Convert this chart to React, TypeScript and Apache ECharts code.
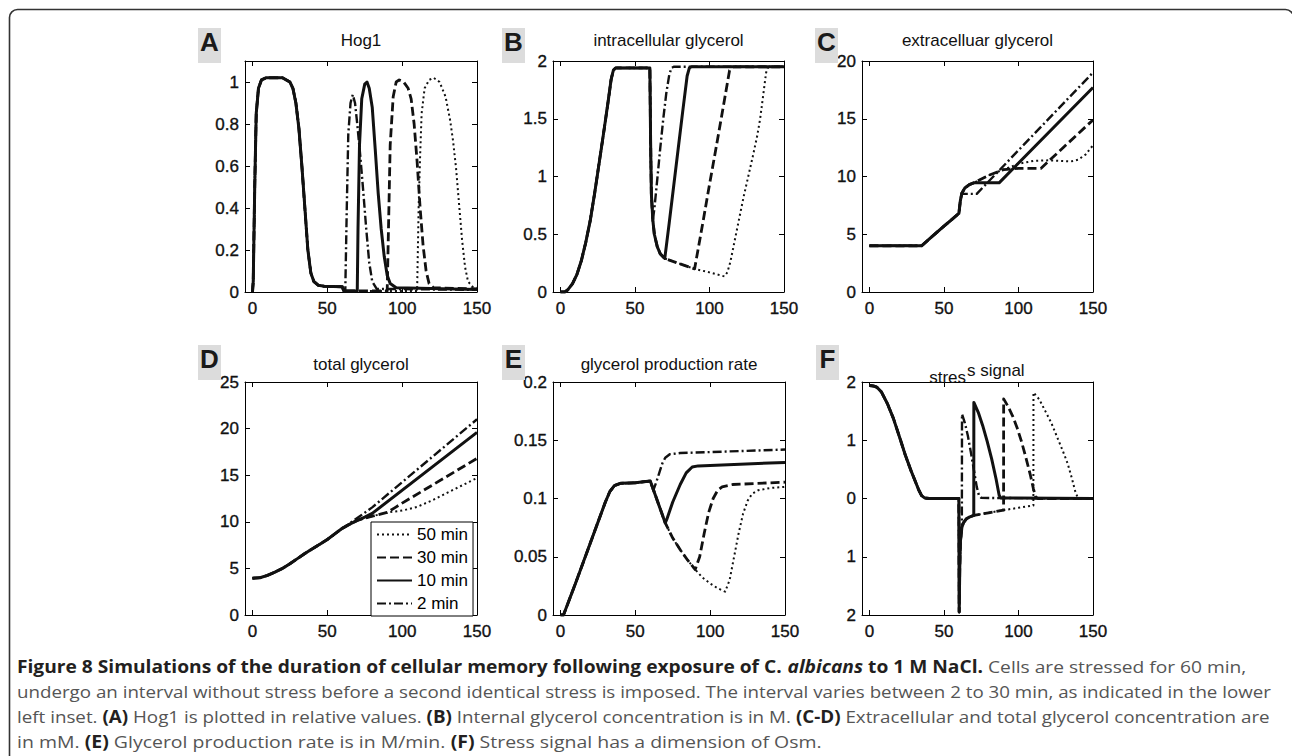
import React, { useEffect, useRef } from 'react';
import * as echarts from 'echarts';

// ---------- shared ----------
const seriesNames = ['50 min', '30 min', '10 min', '2 min'];
const xTicks = [0, 50, 100, 150];

// ---------- A: Hog1 ----------
const hogTicks = [0, 0.2, 0.4, 0.6, 0.8, 1];
const hogCommon = [[0, 0], [0.5, 0.05], [1.5, 0.5], [2.5, 0.85], [4, 0.97], [6, 1.01], [9, 1.02], [20, 1.02], [25, 1.0], [27, 0.97], [29, 0.9], [31, 0.78], [33, 0.6], [35, 0.4], [37, 0.2], [39, 0.09], [41, 0.05], [44, 0.032], [48, 0.027], [60, 0.025], [61, 0.005]];
const hog_2 = [...hogCommon, [62, 0.005], [63, 0.4], [64, 0.75], [65.5, 0.9], [67, 0.94], [68.5, 0.9], [70, 0.8], [72, 0.65], [74, 0.48], [76, 0.3], [78, 0.14], [80, 0.05], [83, 0.015], [150, 0.01]];
const hog_10 = [...hogCommon, [70, 0.005], [70.5, 0.3], [71.5, 0.7], [73, 0.92], [75, 0.99], [76.5, 1.0], [78, 0.97], [80, 0.88], [82, 0.68], [84, 0.47], [86, 0.3], [88, 0.17], [90, 0.08], [92, 0.04], [96, 0.02], [150, 0.012]];
const hog_30 = [...hogCommon, [90, 0.005], [91, 0.35], [92, 0.7], [94, 0.93], [96, 1.0], [98, 1.01], [101, 1.0], [104, 0.97], [106, 0.92], [108, 0.8], [110, 0.62], [112, 0.4], [114, 0.22], [116, 0.1], [118, 0.04], [121, 0.02], [150, 0.015]];
const hog_50 = [...hogCommon, [110, 0.005], [111, 0.4], [112, 0.65], [113, 0.85], [115, 0.97], [118, 1.01], [121, 1.02], [125, 1.0], [129, 0.93], [132, 0.82], [134, 0.72], [136, 0.59], [138, 0.42], [140, 0.25], [142, 0.12], [144, 0.05], [147, 0.025], [150, 0.02]];

// ---------- B: intracellular glycerol ----------
const inTicks = [0, 0.5, 1, 1.5, 2];
const inCommon = [[0, 0], [3, 0], [5, 0.02], [8, 0.07], [11, 0.15], [14, 0.27], [17, 0.43], [20, 0.62], [23, 0.86], [26, 1.12], [29, 1.38], [32, 1.65], [34, 1.84], [35.5, 1.92], [37, 1.94], [60, 1.94], [60.5, 1.3], [61, 0.85], [62, 0.62]];
const inDrop = [[63, 0.5], [65, 0.39], [67, 0.33], [70, 0.29]];
const in_2 = [...inCommon, [63, 0.72], [65, 0.98], [67, 1.25], [69, 1.5], [71, 1.72], [73, 1.88], [74.5, 1.94], [76, 1.95], [150, 1.95]];
const in_10 = [...inCommon, ...inDrop, [73, 0.6], [76, 0.92], [79, 1.24], [82, 1.56], [85, 1.87], [86.5, 1.94], [88, 1.95], [150, 1.95]];
const in_30 = [...inCommon, ...inDrop, [80, 0.245], [90, 0.2], [95, 0.56], [100, 0.93], [105, 1.29], [110, 1.66], [113.5, 1.92], [116, 1.95], [150, 1.95]];
const in_50 = [...inCommon, ...inDrop, [80, 0.245], [90, 0.2], [100, 0.17], [110, 0.135], [112, 0.17], [114, 0.26], [117, 0.45], [120, 0.64], [123, 0.83], [126, 1.0], [129, 1.17], [132, 1.35], [134, 1.5], [136, 1.7], [138, 1.9], [139.5, 1.95], [150, 1.95]];

// ---------- C: extracellular glycerol ----------
const exTicks = [0, 5, 10, 15, 20];
const exCommon = [[0, 4], [35, 4], [40, 4.57], [45, 5.14], [50, 5.7], [55, 6.25], [60, 6.8], [61, 7.9], [62, 8.55]];
const exLeak = [[64, 9.0], [67, 9.3], [70, 9.45]];
const ex_2 = [...exCommon, [63, 8.5], [72, 8.5], [150, 19.0]];
const ex_10 = [...exCommon, ...exLeak, [87, 9.45], [150, 17.7]];
const ex_30 = [...exCommon, ...exLeak, [80, 10.1], [90, 10.6], [100, 10.7], [115, 10.7], [150, 14.9]];
const ex_50 = [...exCommon, ...exLeak, [80, 10.1], [90, 10.6], [100, 11.1], [110, 11.35], [120, 11.4], [135, 11.3], [140, 11.45], [145, 11.9], [150, 12.7]];

// ---------- D: total glycerol ----------
const totTicks = [0, 5, 10, 15, 20, 25];
const totCommon = [[0, 3.95], [5, 4.0], [10, 4.25], [15, 4.6], [20, 5.0], [25, 5.5], [30, 6.05], [35, 6.6], [40, 7.1], [45, 7.6], [50, 8.1], [55, 8.7], [60, 9.3]];
const totLate = [[65, 9.75], [70, 10.15]];
const tot_2 = [...totCommon, [62, 9.5], [70, 10.4], [80, 11.55], [150, 21.0]];
const tot_10 = [...totCommon, ...totLate, [75, 10.5], [80, 10.9], [150, 19.6]];
const tot_30 = [...totCommon, ...totLate, [80, 10.6], [90, 11.0], [95, 11.5], [100, 12.0], [150, 16.8]];
const tot_50 = [...totCommon, ...totLate, [80, 10.6], [90, 11.0], [100, 11.2], [110, 11.6], [120, 12.3], [130, 13.1], [140, 13.9], [150, 14.7]];

// ---------- E: glycerol production rate ----------
const rateTicks = [0, 0.05, 0.1, 0.15, 0.2];
const rateCommon = [[0, 0], [2, 0], [10, 0.027], [20, 0.062], [30, 0.097], [33, 0.106], [36, 0.111], [40, 0.113], [50, 0.1135], [60, 0.115]];
const rateDrop = [[65, 0.097], [70, 0.079]];
const rate_2 = [...rateCommon, [62, 0.107], [64, 0.114], [66, 0.122], [68, 0.13], [70, 0.135], [73, 0.138], [80, 0.139], [150, 0.142]];
const rate_10 = [...rateCommon, ...rateDrop, [71, 0.082], [75, 0.097], [80, 0.112], [84, 0.122], [88, 0.127], [92, 0.128], [150, 0.131]];
const rate_30 = [...rateCommon, ...rateDrop, [75, 0.066], [80, 0.056], [85, 0.047], [90, 0.039], [93, 0.05], [96, 0.07], [99, 0.088], [102, 0.1], [105, 0.107], [108, 0.11], [115, 0.112], [150, 0.114]];
const rate_50 = [...rateCommon, ...rateDrop, [75, 0.066], [80, 0.056], [85, 0.047], [90, 0.039], [95, 0.032], [100, 0.027], [105, 0.023], [110, 0.02], [113, 0.03], [116, 0.05], [119, 0.07], [122, 0.087], [125, 0.098], [128, 0.104], [132, 0.107], [140, 0.109], [150, 0.11]];

// ---------- F: stress signal ----------
const stTicks = [-2, -1, 0, 1, 2];
const stCommon = [[0, 1.94], [3, 1.93], [5, 1.91], [8, 1.83], [12, 1.63], [16, 1.38], [20, 1.07], [24, 0.75], [28, 0.47], [31, 0.28], [33, 0.15], [35, 0.05], [37, 0.01], [40, 0], [60, 0], [60.2, -1.95], [60.6, -1.2], [61, -0.75], [62, -0.5]];
const stNeg = [[63, -0.42], [65, -0.35], [67, -0.32], [70, -0.29]];
const st_2 = [...stCommon, [62.1, 1.45], [64, 1.3], [66, 1.08], [68, 0.8], [70, 0.5], [72, 0.2], [73.5, 0.05], [75, 0.01], [150, 0]];
const st_10 = [...stCommon, ...stNeg, [70.05, 1.65], [73, 1.48], [76, 1.25], [79, 0.98], [82, 0.68], [85, 0.33], [87, 0.06], [88, 0.01], [150, 0]];
const st_30 = [...stCommon, ...stNeg, [80, -0.245], [90, -0.2], [90.05, 1.71], [93, 1.58], [96, 1.42], [99, 1.22], [102, 0.98], [105, 0.7], [108, 0.4], [110, 0.17], [111.5, 0.03], [113, 0], [150, 0]];
const st_50 = [...stCommon, ...stNeg, [80, -0.245], [90, -0.2], [100, -0.16], [110, -0.12], [110.05, 1.82], [114, 1.7], [118, 1.5], [122, 1.3], [126, 1.05], [130, 0.8], [133, 0.6], [136, 0.33], [138, 0.13], [139.5, 0.03], [141, 0], [150, 0]];

// ---------- text ----------
const captionLines: [string, string][][] = [
  [['b', 'Figure 8 Simulations of the duration of cellular memory following exposure of C. '], ['bi', 'albicans'], ['b', ' to 1 M NaCl.'], ['r', ' Cells are stressed for 60 min,']],
  [['r', 'undergo an interval without stress before a second identical stress is imposed. The interval varies between 2 to 30 min, as indicated in the lower']],
  [['r', 'left inset. '], ['b', '(A)'], ['r', ' Hog1 is plotted in relative values. '], ['b', '(B)'], ['r', ' Internal glycerol concentration is in M. '], ['b', '(C-D)'], ['r', ' Extracellular and total glycerol concentration are']],
  [['r', 'in mM. '], ['b', '(E)'], ['r', ' Glycerol production rate is in M/min. '], ['b', '(F)'], ['r', ' Stress signal has a dimension of Osm.']],
];

const FONT = "'Liberation Sans', Arial, sans-serif";
const CAP_FONT = "'Open Sans', sans-serif";
const CAP_SIZE = 17;

const lineStyles: Record<string, any> = {
  '50 min': { type: [2, 3], width: 2 },
  '30 min': { type: [9, 4], width: 2.8 },
  '10 min': { type: 'solid', width: 3 },
  '2 min': { type: [9, 3, 2, 3], width: 2.4 },
};

const panels = [
  { letter: 'A', title: 'Hog1', yMin: 0, yMax: 1.1, yTicks: hogTicks, data: { '50 min': hog_50, '30 min': hog_30, '10 min': hog_10, '2 min': hog_2 }, left: 245, top: 61, w: 232, h: 231 },
  { letter: 'B', title: 'intracellular glycerol', yMin: 0, yMax: 2, yTicks: inTicks, data: { '50 min': in_50, '30 min': in_30, '10 min': in_10, '2 min': in_2 }, left: 553, top: 61, w: 231, h: 231 },
  { letter: 'C', title: 'extracelluar glycerol', yMin: 0, yMax: 20, yTicks: exTicks, data: { '50 min': ex_50, '30 min': ex_30, '10 min': ex_10, '2 min': ex_2 }, left: 862, top: 61, w: 231, h: 231 },
  { letter: 'D', title: 'total glycerol', yMin: 0, yMax: 25, yTicks: totTicks, data: { '50 min': tot_50, '30 min': tot_30, '10 min': tot_10, '2 min': tot_2 }, left: 245, top: 382, w: 232, h: 233 },
  { letter: 'E', title: 'glycerol production rate', yMin: 0, yMax: 0.2, yTicks: rateTicks, data: { '50 min': rate_50, '30 min': rate_30, '10 min': rate_10, '2 min': rate_2 }, left: 553, top: 382, w: 232, h: 233 },
  { letter: 'F', title: '', yMin: -2, yMax: 2, yTicks: stTicks, data: { '50 min': st_50, '30 min': st_30, '10 min': st_10, '2 min': st_2 }, left: 862, top: 382, w: 231, h: 233, absLabels: true },
];

function measure(font: string, s: string) {
  const c = document.createElement('canvas').getContext('2d')!;
  c.font = font;
  return c.measureText(s).width;
}

function buildOption() {
  const grid: any[] = [];
  const xAxis: any[] = [];
  const yAxis: any[] = [];
  const series: any[] = [];
  const graphic: any[] = [];

  const axisLine = { show: true, onZero: false, lineStyle: { color: '#000', width: 1 } };
  const labelStyle = { fontSize: 17, color: '#111', fontFamily: FONT, textBorderColor: '#111', textBorderWidth: 0.35 };

  panels.forEach((p, i) => {
    grid.push({ left: p.left, top: p.top, width: p.w, height: p.h, containLabel: false });
    const xBase = { type: 'value', gridIndex: i, min: -5, max: 150, axisLine, splitLine: { show: false },
      axisTick: { show: true, inside: true, length: 5, customValues: xTicks, lineStyle: { color: '#000' } } };
    xAxis.push({ ...xBase, position: 'bottom', axisLabel: { ...labelStyle, margin: 8, customValues: xTicks } });
    xAxis.push({ ...xBase, position: 'top', axisLabel: { show: false } });
    const yBase = { type: 'value', gridIndex: i, min: p.yMin, max: p.yMax, axisLine, splitLine: { show: false },
      axisTick: { show: true, inside: true, length: 5, customValues: p.yTicks, lineStyle: { color: '#000' } } };
    yAxis.push({ ...yBase, position: 'left', axisLabel: { ...labelStyle, margin: 6, customValues: p.yTicks,
      formatter: (v: number) => (p.absLabels ? String(Math.abs(v)) : String(v)) } });
    yAxis.push({ ...yBase, position: 'right', axisLabel: { show: false } });

    ['50 min', '30 min', '2 min', '10 min'].forEach((name) => {
      const ls = lineStyles[name];
      series.push({
        type: 'line', name, xAxisIndex: 2 * i, yAxisIndex: 2 * i, data: (p.data as any)[name],
        symbol: 'none', showSymbol: false, clip: true,
        lineStyle: { color: '#111', width: ls.width, type: ls.type, cap: 'butt', join: 'round' },
        itemStyle: { color: '#111' },
        emphasis: { disabled: true },
      });
    });

    // panel letter with grey box
    const topRow = i < 3;
    const bx = [198, 502, 815, 198, 502, 816][i];
    const by = topRow ? 28 : 345;
    graphic.push({ type: 'rect', shape: { x: bx, y: by, width: 23, height: 35 }, style: { fill: '#dcdcdc' }, z: 1 });
    graphic.push({ type: 'text', x: bx + 11.5, y: by + 13.5, z: 2,
      style: { text: p.letter, fontSize: 26, fontWeight: 'bold', fontFamily: FONT, fill: '#1a1a1a', align: 'center', verticalAlign: 'middle' } });
    if (p.title) {
      graphic.push({ type: 'text', x: p.left + p.w / 2, y: topRow ? 40.5 : 364.5, z: 2,
        style: { text: p.title, fontSize: 17, fontFamily: FONT, fill: '#111', align: 'center', verticalAlign: 'middle' } });
    }
  });

  // F's broken title
  graphic.push({ type: 'text', x: 966, y: 377, z: 2, style: { text: 'stres', fontSize: 17, fontFamily: FONT, fill: '#111', align: 'right', verticalAlign: 'middle' } });
  graphic.push({ type: 'text', x: 967, y: 370.5, z: 2, style: { text: 's signal', fontSize: 17, fontFamily: FONT, fill: '#111', align: 'left', verticalAlign: 'middle' } });

  // frame
  graphic.push({ type: 'rect', shape: { x: 9.5, y: 9.5, width: 1284, height: 800, r: 8 }, style: { fill: 'none', stroke: '#333', lineWidth: 1.6 }, z: 0 });

  // caption
  const fonts: Record<string, string> = {
    b: `bold ${CAP_SIZE}px ${CAP_FONT}`,
    bi: `italic bold ${CAP_SIZE}px ${CAP_FONT}`,
    r: `${CAP_SIZE}px ${CAP_FONT}`,
  };
  const rich = {
    b: { fontWeight: 'bold', fontSize: CAP_SIZE, fontFamily: CAP_FONT, fill: '#231f20' },
    bi: { fontWeight: 'bold', fontStyle: 'italic', fontSize: CAP_SIZE, fontFamily: CAP_FONT, fill: '#231f20' },
    r: { fontSize: CAP_SIZE, fontFamily: CAP_FONT, fill: '#555555' },
  };
  const capRight = [1247, 1272, 1270, 822];
  const capY = [666, 691, 716, 741];
  const capX = 17;
  captionLines.forEach((segs, k) => {
    const w = segs.reduce((s, [st, t]) => s + measure(fonts[st], t), 0);
    const sx = w > 0 ? (capRight[k] - capX) / w : 1;
    graphic.push({ type: 'text', x: capX, y: capY[k], scaleX: sx, z: 2,
      style: { text: segs.map(([st, t]) => `{${st}|${t}}`).join(''), rich, align: 'left', verticalAlign: 'middle' } });
  });

  return {
    animation: false,
    backgroundColor: '#fff',
    textStyle: { fontFamily: FONT },
    grid, xAxis, yAxis, series, graphic,
    legend: {
      data: seriesNames, orient: 'vertical', left: 371, top: 522,
      itemWidth: 35, itemHeight: 14, itemGap: 6,
      padding: [4, 5, 4, 5], borderColor: '#000', borderWidth: 1, backgroundColor: '#fff',
      itemStyle: { opacity: 0 },
      textStyle: { fontSize: 17, color: '#000', fontFamily: FONT },
      selectedMode: false,
    },
  };
}

export default function App() {
  const ref = useRef<HTMLDivElement>(null);
  useEffect(() => {
    const chart = echarts.init(ref.current!, null, { renderer: 'svg' });
    chart.setOption(buildOption() as any);
    return () => chart.dispose();
  }, []);
  return <div ref={ref} style={{ position: 'fixed', left: 0, top: 0, width: 1292, height: 756, background: '#fff' }} />;
}
